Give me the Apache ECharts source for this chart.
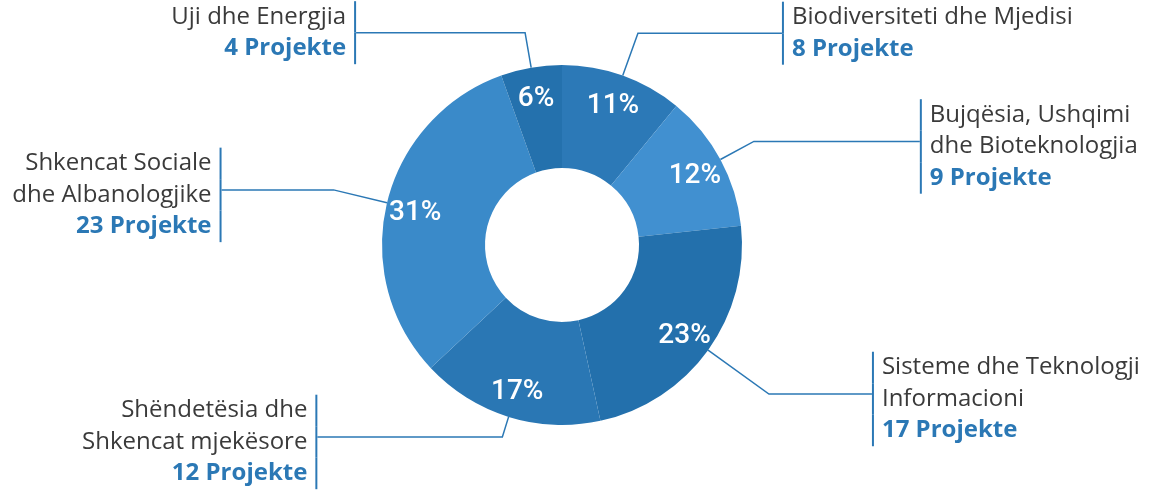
<!DOCTYPE html>
<html><head><meta charset="utf-8">
<script src="https://cdn.jsdelivr.net/npm/echarts@6/dist/echarts.min.js"></script>
<style>html,body{margin:0;padding:0;background:#ffffff}#c{width:1152px;height:491px}</style>
</head><body><div id="c"></div>
<script>
// Data (clockwise from 12 o'clock)
const categories = [
  'Biodiversiteti dhe Mjedisi',
  'Bujqësia, Ushqimi\ndhe Bioteknologjia',
  'Sisteme dhe Teknologji\nInformacioni',
  'Shëndetësia dhe\nShkencat mjekësore',
  'Shkencat Sociale\ndhe Albanologjike',
  'Uji dhe Energjia'
];
const projects = [8, 9, 17, 12, 23, 4];
const percentLabels = ['11%', '12%', '23%', '17%', '31%', '6%'];
const unitLabel = 'Projekte';

// Styles
const sliceColors = ['#2c79b7', '#4190d0', '#2370ac', '#2a77b4', '#3a8ac9', '#2471ad'];
const lineLen = [45, 38, 75, 21, 55, 35.5];
const lineLen2 = [144, 166, 103, 185, 112, 169];
const BLUE = '#2b78b5';
const GREY = '#3a3a3a';
const FONT = '"Open Sans", sans-serif';

const total = projects.reduce((a, b) => a + b, 0);
let cum = 0;
const outerData = projects.map((v, i) => {
  const mid = (cum + v / 2) / total; cum += v;
  const right = mid < 0.5;
  const lines = categories[i].split('\n');
  let txt;
  if (right) {
    txt = lines.map(l => '{barL|}{tL|' + l + '}').join('\n') + '\n{barL|}{bL|' + v + ' ' + unitLabel + '}';
  } else {
    txt = lines.map(l => '{tR|' + l + '}{barR|}').join('\n') + '\n{bR|' + v + ' ' + unitLabel + '}{barR|}';
  }
  return {
    value: v,
    name: categories[i],
    itemStyle: { color: sliceColors[i] },
    label: { formatter: txt, padding: lines.length > 1 ? [10, 0, 0, 0] : 0 },
    labelLine: { length: lineLen[i], length2: lineLen2[i] }
  };
});
const innerData = projects.map((v, i) => ({ value: v, name: categories[i], label: { formatter: percentLabels[i] } }));

const FS = 24, LH = 31.5;
const rich = {
  tL: { color: GREY, fontSize: FS, lineHeight: LH, height: LH, padding: [0, 0, 0, 8], align: 'left', fontFamily: FONT },
  bL: { color: BLUE, fontSize: FS, fontWeight: 'bold', lineHeight: LH, height: LH, padding: [0, 0, 0, 8], align: 'left', fontFamily: FONT },
  barL: { width: 2, height: LH, lineHeight: LH, backgroundColor: BLUE, align: 'left' },
  tR: { color: GREY, fontSize: FS, lineHeight: LH, height: LH, padding: [0, 8, 0, 0], align: 'right', fontFamily: FONT },
  bR: { color: BLUE, fontSize: FS, fontWeight: 'bold', lineHeight: LH, height: LH, padding: [0, 8, 0, 0], align: 'right', fontFamily: FONT },
  barR: { width: 2, height: LH, lineHeight: LH, backgroundColor: BLUE, align: 'right' }
};

const chart = echarts.init(document.getElementById('c'), null, { renderer: 'canvas' });
chart.setOption({
  backgroundColor: '#ffffff',
  animation: false,
  series: [
    {
      type: 'pie',
      center: [562, 245],
      radius: [77, 180],
      startAngle: 90,
      clockwise: true,
      avoidLabelOverlap: false,
      silent: true,
      data: outerData,
      label: {
        show: true,
        position: 'outside',
        alignTo: 'none',
        distanceToLabelLine: 0,
        width: 330,
        overflow: 'none',
        rich: rich
      },
      labelLine: { show: true, smooth: false, lineStyle: { color: BLUE, width: 1.5 } }
    },
    {
      type: 'pie',
      center: [562, 248],
      radius: [116, 180],
      startAngle: 90,
      clockwise: true,
      silent: true,
      avoidLabelOverlap: false,
      itemStyle: { color: 'rgba(0,0,0,0)' },
      data: innerData,
      label: { show: true, position: 'inside', color: '#ffffff', fontSize: 28, fontFamily: 'Roboto', fontWeight: 500 },
      labelLine: { show: false }
    }
  ]
});
</script></body></html>
